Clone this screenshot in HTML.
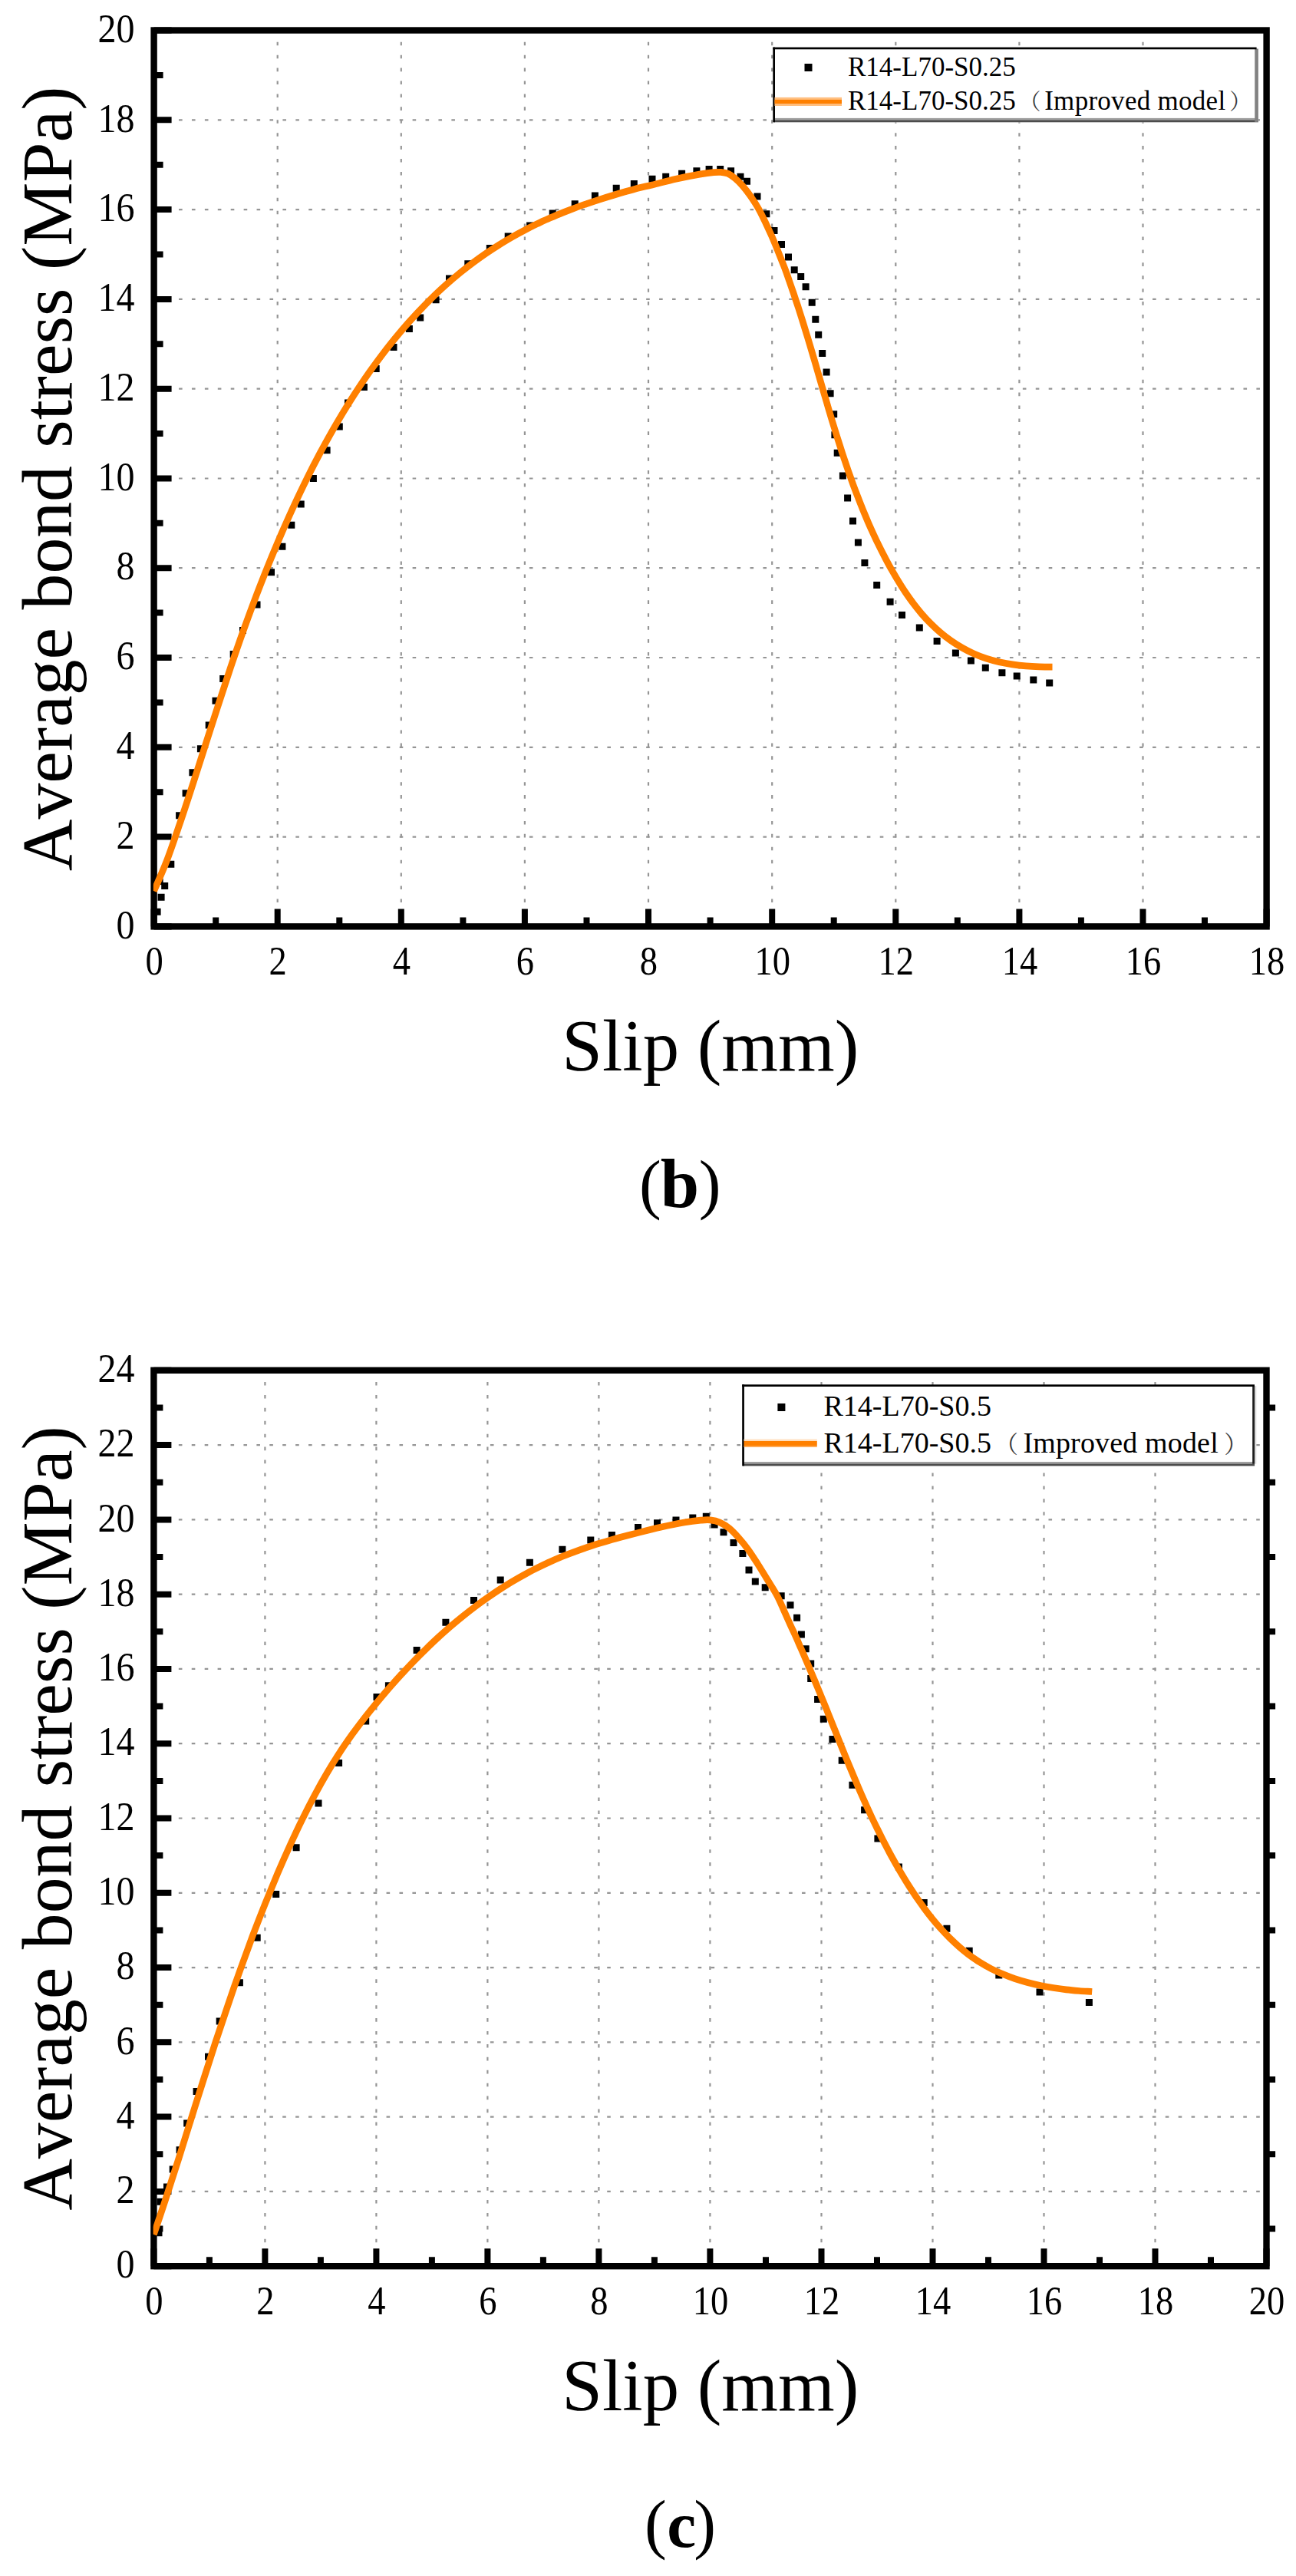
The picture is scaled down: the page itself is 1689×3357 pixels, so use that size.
<!DOCTYPE html>
<html lang="en">
<head>
<meta charset="utf-8">
<title>Average bond stress vs slip</title>
<style>
html,body{margin:0;padding:0;background:#fff}
body{width:1689px;height:3357px;overflow:hidden}
svg{display:block}
svg text{font-family:'Liberation Serif', 'Noto Serif CJK SC', serif;fill:#000}
</style>
</head>
<body>
<svg width="1689" height="3357" viewBox="0 0 1689 3357">
<rect width="1689" height="3357" fill="#fff"/>
<g id="chart-b">
<path d="M361.7 37.8V1207.4M522.8 37.8V1207.4M683.9 37.8V1207.4M845 37.8V1207.4M1006.2 37.8V1207.4M1167.3 37.8V1207.4M1328.4 37.8V1207.4M1489.5 37.8V1207.4" stroke="#959595" stroke-width="2.2" stroke-dasharray="4.6 12.32" fill="none"/>
<path d="M199.2 1090.6H1644.6M199.2 973.8H1644.6M199.2 857H1644.6M199.2 740.2H1644.6M199.2 623.5H1644.6M199.2 506.7H1644.6M199.2 389.9H1644.6M199.2 273.1H1644.6M199.2 156.3H1644.6" stroke="#959595" stroke-width="2.2" stroke-dasharray="4.6 12.32" fill="none"/>
<rect x="1008.6" y="63" width="631.3" height="96.4" fill="#fff"/>
<rect x="1008.6" y="153.9" width="631.3" height="2.6" fill="#a0a0a0"/>
<rect x="1008.6" y="156.4" width="631.3" height="2.9" fill="#4c4c4c"/>
<rect x="1635.3" y="63.5" width="4.6" height="95.4" fill="#828282"/>
<rect x="1007.3" y="61.6" width="630.3" height="2.7" fill="#000"/>
<rect x="1007.3" y="61.6" width="2.7" height="97.7" fill="#000"/>
<path d="M200.6 1183.8h9v9h-9zM205.6 1164.8h9v9h-9zM210.2 1149.9h9v9h-9zM218.3 1121.8h9v9h-9zM229.1 1058.2h9v9h-9zM237.6 1029.2h9v9h-9zM246.4 1002.2h9v9h-9zM256.9 971.3h9v9h-9zM267.7 940.5h9v9h-9zM276.5 908.8h9v9h-9zM286.2 879.9h9v9h-9zM299.7 847.9h9v9h-9zM312 817h9v9h-9zM330.5 783.5h9v9h-9zM349 741.3h9v9h-9zM363.4 707.7h9v9h-9zM375.3 679.8h9v9h-9zM387.7 652.4h9v9h-9zM403.9 618.9h9v9h-9zM421.6 582.2h9v9h-9zM437.8 551.4h9v9h-9zM449 520.5h9v9h-9zM469.9 500h9v9h-9zM485.7 476.1h9v9h-9zM508.5 448h9v9h-9zM528.9 424h9v9h-9zM543.2 409.4h9v9h-9zM563.6 386.2h9v9h-9zM581 358.5h9v9h-9zM605.3 339.2h9v9h-9zM633.8 319.1h9v9h-9zM657.7 303.5h9v9h-9zM686.1 289.6h9v9h-9zM715.7 273.6h9v9h-9zM744.7 261.2h9v9h-9zM770.9 250.4h9v9h-9zM798.7 240.8h9v9h-9zM821.8 235h9v9h-9zM845.5 228.8h9v9h-9zM863.2 225.7h9v9h-9zM884.1 221.8h9v9h-9zM903.4 218.3h9v9h-9zM919.6 216h9v9h-9zM934.2 216h9v9h-9zM948.1 218.3h9v9h-9zM960.5 225.7h9v9h-9zM969 231.8h9v9h-9zM982.5 251.4h9v9h-9zM994.4 274.3h9v9h-9zM1004.5 295.9h9v9h-9zM1014 314.1h9v9h-9zM1023 330.6h9v9h-9zM1030.7 347.3h9v9h-9zM1039.2 356.1h9v9h-9zM1045.6 369.3h9v9h-9zM1053.7 389.7h9v9h-9zM1058.3 411.7h9v9h-9zM1062.2 431.8h9v9h-9zM1067.2 456.1h9v9h-9zM1072.6 480.4h9v9h-9zM1077.6 508.2h9v9h-9zM1082.2 535.2h9v9h-9zM1083.4 562.2h9v9h-9zM1086.7 585.7h9v9h-9zM1093.9 615.5h9v9h-9zM1100.1 644.5h9v9h-9zM1107 674.4h9v9h-9zM1113.9 702.5h9v9h-9zM1122.4 729.1h9v9h-9zM1138.2 758.1h9v9h-9zM1155.6 779.7h9v9h-9zM1171 797h9v9h-9zM1193.8 813.6h9v9h-9zM1216.6 831h9v9h-9zM1240.9 846.4h9v9h-9zM1260.9 856.5h9v9h-9zM1279.8 865.7h9v9h-9zM1301.4 872.3h9v9h-9zM1320.7 876.5h9v9h-9zM1342.3 881.5h9v9h-9zM1363.2 885.4h9v9h-9z" fill="#000"/>
<path d="M200.6 1207.4v-23M281.2 1207.4v-12M361.7 1207.4v-23M442.3 1207.4v-12M522.8 1207.4v-23M603.4 1207.4v-12M683.9 1207.4v-23M764.5 1207.4v-12M845 1207.4v-23M925.6 1207.4v-12M1006.2 1207.4v-23M1086.7 1207.4v-12M1167.3 1207.4v-23M1247.8 1207.4v-12M1328.4 1207.4v-23M1408.9 1207.4v-12M1489.5 1207.4v-23M1570 1207.4v-12M1650.6 1207.4v-23M200.6 1207.4h23M200.6 1149h12M200.6 1090.6h23M200.6 1032.2h12M200.6 973.8h23M200.6 915.4h12M200.6 857h23M200.6 798.6h12M200.6 740.2h23M200.6 681.8h12M200.6 623.5h23M200.6 565.1h12M200.6 506.7h23M200.6 448.3h12M200.6 389.9h23M200.6 331.5h12M200.6 273.1h23M200.6 214.7h12M200.6 156.3h23M200.6 97.9h12M200.6 39.5h23" stroke="#000" stroke-width="8" fill="none"/>
<rect x="200.6" y="39.5" width="1450" height="1167.9" fill="none" stroke="#000" stroke-width="8.4"/>
<clipPath id="clip-b"><rect x="199.8" y="39.5" width="1450" height="1167.9"/></clipPath>
<path d="M200.6 1161.2C203.4 1154.7 211.7 1136.4 217.3 1121.9C222.8 1107.5 228.4 1090.9 233.9 1074.6C239.5 1058.3 245 1041.3 250.6 1024.2C256.1 1007.2 261.7 989.7 267.2 972.4C272.8 955.1 278.3 937.5 283.9 920.5C289.4 903.4 295 886.3 300.5 869.9C306.1 853.4 311.6 837.4 317.2 821.8C322.7 806.3 328.3 791.3 333.8 776.7C339.4 762.1 344.9 748 350.5 734.3C356 720.7 361.6 707.5 367.1 694.7C372.7 681.9 378.2 669.5 383.8 657.5C389.3 645.5 394.9 634 400.4 622.8C406 611.6 411.5 600.9 417.1 590.4C422.6 580 428.2 570 433.7 560.3C439.3 550.6 444.8 541.2 450.4 532.2C455.9 523.2 461.5 514.5 467 506.1C472.6 497.7 478.1 489.6 483.7 481.8C489.2 474 494.8 466.5 500.3 459.3C505.9 452.1 511.4 445.1 517 438.4C522.5 431.7 528.1 425.2 533.6 419C539.2 412.8 544.7 406.8 550.3 401.1C555.8 395.3 561.4 389.8 566.9 384.4C572.5 379.1 578 374 583.6 369.1C589.1 364.2 594.7 359.5 600.2 355C605.8 350.5 611.3 346.2 616.9 342C622.4 337.9 628 333.9 633.5 330.1C639.1 326.3 644.6 322.7 650.2 319.2C655.7 315.7 661.3 312.4 666.8 309.2C672.4 306 677.9 303 683.5 300.1C689 297.2 694.6 294.4 700.1 291.7C705.7 289.1 711.2 286.5 716.8 284.1C722.3 281.7 727.9 279.3 733.4 277.1C739 274.9 744.5 272.8 750.1 270.7C755.6 268.6 761.2 266.7 766.7 264.8C772.3 262.9 777.8 261.1 783.4 259.3C788.9 257.5 794.5 255.8 800 254.2C805.6 252.5 811.1 250.9 816.7 249.3C822.2 247.8 827.8 246.2 833.3 244.8C838.9 243.4 842.1 242.9 850 241C857.9 239.1 870.6 235.5 880.9 233.2C891.2 230.9 903.5 228.5 911.7 227.1C919.9 225.7 925.6 225 930.2 224.6C934.8 224.2 936.4 224.1 939.5 224.4C942.6 224.7 945.7 225 948.8 226.3C951.9 227.7 954.9 229.9 958 232.5C961.1 235.1 963.9 237.8 967.3 241.7C970.6 245.5 974.5 250.4 978.1 255.6C981.7 260.8 985.6 266.7 988.9 272.6C992.2 278.5 995.3 285.2 998.1 291.1C1000.9 297 1003.3 302.2 1005.9 308.1C1008.5 314 1010.8 319.7 1013.6 326.6C1016.4 333.6 1020.3 343.2 1022.8 349.8C1025.3 356.4 1026.7 360.6 1028.6 366.1C1030.5 371.5 1032.4 377 1034.3 382.5C1036.1 388 1038 393.5 1039.8 399C1041.6 404.5 1043.3 410 1045.1 415.6C1046.8 421.1 1048.5 426.7 1050.2 432.2C1051.9 437.8 1053.6 443.3 1055.3 448.9C1056.9 454.5 1058.6 460.1 1060.2 465.6C1061.9 471.2 1063.5 476.8 1065.1 482.4C1066.7 488 1068.4 493.6 1070 499.2C1071.6 504.7 1073.2 510.3 1074.9 515.9C1076.5 521.5 1078.2 527.1 1079.8 532.7C1081.5 538.2 1083.1 543.8 1084.8 549.4C1086.5 554.9 1088.2 560.5 1089.9 566C1091.7 571.6 1093.4 577.1 1095.2 582.6C1096.9 588.2 1098.7 593.7 1100.6 599.2C1102.4 604.7 1104.3 610.2 1106.2 615.6C1108.1 621.1 1110.1 626.6 1112 632C1114 637.4 1116.1 642.8 1118.2 648.2C1120.2 653.6 1122.4 659 1124.6 664.4C1126.8 669.7 1129 675.1 1131.3 680.4C1133.6 685.7 1136 690.9 1138.4 696.2C1140.8 701.5 1143.3 706.7 1145.9 711.9C1148.4 717.1 1151.1 722.2 1153.8 727.4C1156.5 732.5 1159.2 737.6 1162.1 742.7C1165 747.8 1167.9 752.8 1171 757.8C1174 762.7 1177.1 767.6 1180.4 772.5C1183.7 777.3 1187 782 1190.5 786.6C1194 791.2 1197.6 795.7 1201.3 800.1C1205.1 804.5 1209 808.7 1213 812.7C1217.1 816.8 1221.3 820.7 1225.7 824.4C1230 828.1 1234.6 831.6 1239.3 834.9C1244 838.2 1248.9 841.3 1253.9 844.1C1258.9 847 1264 849.6 1269.3 851.9C1274.5 854.2 1280 856.3 1285.4 858.1C1290.9 859.9 1296.6 861.4 1302.2 862.7C1307.9 863.9 1313.6 865 1319.4 865.9C1325.1 866.7 1331 867.4 1336.8 867.9C1342.6 868.4 1348.4 868.7 1354.2 868.9C1360 869.1 1368.6 869.1 1371.5 869.1" fill="none" stroke="#ff8000" stroke-width="8.7" stroke-linejoin="round" clip-path="url(#clip-b)"/>
<rect x="1048.5" y="83" width="10" height="10" fill="#000"/>
<rect x="1009.5" y="126.9" width="87.5" height="11.1" fill="#ffbf80"/>
<rect x="1009.5" y="129.9" width="87.5" height="5.2" fill="#ff8000"/>
<text x="1105" y="98.8" font-size="35">R14-L70-S0.25</text>
<text y="142.6" font-size="35"><tspan x="1105">R14-L70-S0.25</tspan><tspan x="1327.7" font-size="28.7" fill="#3c3c3c">（</tspan><tspan x="1361.2" letter-spacing="0.28">Improved model</tspan><tspan x="1602.3" font-size="28.7" fill="#3c3c3c">）</tspan></text>
<text transform="translate(201.1 1270.3) scale(0.95 1.07)" font-size="49" text-anchor="middle">0</text>
<text transform="translate(362.2 1270.3) scale(0.95 1.07)" font-size="49" text-anchor="middle">2</text>
<text transform="translate(523.3 1270.3) scale(0.95 1.07)" font-size="49" text-anchor="middle">4</text>
<text transform="translate(684.4 1270.3) scale(0.95 1.07)" font-size="49" text-anchor="middle">6</text>
<text transform="translate(845.5 1270.3) scale(0.95 1.07)" font-size="49" text-anchor="middle">8</text>
<text transform="translate(1006.7 1270.3) scale(0.95 1.07)" font-size="49" text-anchor="middle">10</text>
<text transform="translate(1167.8 1270.3) scale(0.95 1.07)" font-size="49" text-anchor="middle">12</text>
<text transform="translate(1328.9 1270.3) scale(0.95 1.07)" font-size="49" text-anchor="middle">14</text>
<text transform="translate(1490 1270.3) scale(0.95 1.07)" font-size="49" text-anchor="middle">16</text>
<text transform="translate(1651.1 1270.3) scale(0.95 1.07)" font-size="49" text-anchor="middle">18</text>
<text transform="translate(175.5 1222.6) scale(0.98 1.07)" font-size="49" text-anchor="end">0</text>
<text transform="translate(175.5 1105.8) scale(0.98 1.07)" font-size="49" text-anchor="end">2</text>
<text transform="translate(175.5 989) scale(0.98 1.07)" font-size="49" text-anchor="end">4</text>
<text transform="translate(175.5 872.2) scale(0.98 1.07)" font-size="49" text-anchor="end">6</text>
<text transform="translate(175.5 755.4) scale(0.98 1.07)" font-size="49" text-anchor="end">8</text>
<text transform="translate(175.5 638.7) scale(0.98 1.07)" font-size="49" text-anchor="end">10</text>
<text transform="translate(175.5 521.9) scale(0.98 1.07)" font-size="49" text-anchor="end">12</text>
<text transform="translate(175.5 405.1) scale(0.98 1.07)" font-size="49" text-anchor="end">14</text>
<text transform="translate(175.5 288.3) scale(0.98 1.07)" font-size="49" text-anchor="end">16</text>
<text transform="translate(175.5 171.5) scale(0.98 1.07)" font-size="49" text-anchor="end">18</text>
<text transform="translate(175.5 54.7) scale(0.98 1.07)" font-size="49" text-anchor="end">20</text>
<text transform="translate(92.6 623.9) rotate(-90)" font-size="93.7" text-anchor="middle" style="font-kerning:none">Average bond stress (MPa)</text>
<text x="925.8" y="1395.3" font-size="94.8" text-anchor="middle">Slip (mm)</text>
<text font-size="86.4"><tspan x="833.1" y="1572.4">(</tspan><tspan x="860.7" y="1572.5" font-weight="bold" font-size="90.5">b</tspan><tspan x="910.7" y="1572.4">)</tspan></text>
</g>
<g id="chart-c">
<path d="M345.4 1784.1V2953.2M490.4 1784.1V2953.2M635.4 1784.1V2953.2M780.4 1784.1V2953.2M925.4 1784.1V2953.2M1070.5 1784.1V2953.2M1215.5 1784.1V2953.2M1360.5 1784.1V2953.2M1505.5 1784.1V2953.2" stroke="#959595" stroke-width="2.2" stroke-dasharray="4.6 12.32" fill="none"/>
<path d="M199 2855.9H1644.5M199 2758.6H1644.5M199 2661.3H1644.5M199 2564.1H1644.5M199 2466.8H1644.5M199 2369.5H1644.5M199 2272.2H1644.5M199 2174.9H1644.5M199 2077.7H1644.5M199 1980.4H1644.5M199 1883.1H1644.5" stroke="#959595" stroke-width="2.2" stroke-dasharray="4.6 12.32" fill="none"/>
<rect x="968.6" y="1805.7" width="666.5" height="104.8" fill="#fff"/>
<rect x="968.6" y="1905" width="666.5" height="2.6" fill="#a0a0a0"/>
<rect x="968.6" y="1907.5" width="666.5" height="2.9" fill="#4c4c4c"/>
<rect x="1635.1" y="1806.2" width="2.2" height="101.5" fill="#dedede"/>
<rect x="1632.2" y="1806.2" width="2.9" height="101.5" fill="#1e1e1e"/>
<rect x="967.2" y="1804.3" width="667.8" height="2.7" fill="#000"/>
<rect x="967.2" y="1804.3" width="2.7" height="106.1" fill="#000"/>
<path d="M202.5 2905.3h9v9h-9zM204.5 2864.8h9v9h-9zM213 2845.5h9v9h-9zM220.7 2822.4h9v9h-9zM229.6 2797.3h9v9h-9zM239.2 2762.6h9v9h-9zM251.6 2720.9h9v9h-9zM267 2675.8h9v9h-9zM281.7 2629.5h9v9h-9zM307.9 2579.3h9v9h-9zM330.7 2520.7h9v9h-9zM355.2 2464h9v9h-9zM381.6 2403.3h9v9h-9zM410.5 2345.4h9v9h-9zM437.1 2293h9v9h-9zM472.2 2238.6h9v9h-9zM486.5 2206.9h9v9h-9zM501.9 2192.3h9v9h-9zM538.6 2146h9v9h-9zM576.4 2109.7h9v9h-9zM613 2081.1h9v9h-9zM647.7 2054.5h9v9h-9zM685.9 2031.8h9v9h-9zM728.4 2014.8h9v9h-9zM765.3 2002.4h9v9h-9zM792.9 1996h9v9h-9zM827 1986.1h9v9h-9zM852 1980.2h9v9h-9zM876.5 1976.5h9v9h-9zM898.3 1973.5h9v9h-9zM915.8 1971.8h9v9h-9zM926.6 1982.5h9v9h-9zM938.5 1992.3h9v9h-9zM951.5 2005.9h9v9h-9zM963.4 2019.9h9v9h-9zM971.5 2041.5h9v9h-9zM979.8 2056.5h9v9h-9zM992.7 2064.2h9v9h-9zM1013.7 2075.3h9v9h-9zM1025.5 2087.3h9v9h-9zM1034.1 2103.8h9v9h-9zM1039.9 2125.4h9v9h-9zM1045.7 2144.3h9v9h-9zM1052.2 2163.6h9v9h-9zM1052.2 2182.9h9v9h-9zM1061.1 2209.9h9v9h-9zM1068.8 2235.8h9v9h-9zM1080.4 2262h9v9h-9zM1092.7 2289.8h9v9h-9zM1106.4 2321.8h9v9h-9zM1122.1 2354.3h9v9h-9zM1139.4 2391.6h9v9h-9zM1166.9 2428.6h9v9h-9zM1199.7 2474.9h9v9h-9zM1229.4 2508.8h9v9h-9zM1258.7 2537.8h9v9h-9zM1297.3 2569.4h9v9h-9zM1350.5 2591.4h9v9h-9zM1414.9 2604.9h9v9h-9z" fill="#000"/>
<path d="M200.4 2953.2v-23M272.9 2953.2v-12M345.4 2953.2v-23M417.9 2953.2v-12M490.4 2953.2v-23M562.9 2953.2v-12M635.4 2953.2v-23M707.9 2953.2v-12M780.4 2953.2v-23M852.9 2953.2v-12M925.4 2953.2v-23M998 2953.2v-12M1070.5 2953.2v-23M1143 2953.2v-12M1215.5 2953.2v-23M1288 2953.2v-12M1360.5 2953.2v-23M1433 2953.2v-12M1505.5 2953.2v-23M1578 2953.2v-12M1650.5 2953.2v-23M200.4 2953.2h23M200.4 2904.6h12M1650.5 2904.6h11.6M200.4 2855.9h23M200.4 2807.3h12M1650.5 2807.3h11.6M200.4 2758.6h23M200.4 2710h12M1650.5 2710h11.6M200.4 2661.3h23M200.4 2612.7h12M1650.5 2612.7h11.6M200.4 2564.1h23M200.4 2515.4h12M1650.5 2515.4h11.6M200.4 2466.8h23M200.4 2418.1h12M1650.5 2418.1h11.6M200.4 2369.5h23M200.4 2320.9h12M1650.5 2320.9h11.6M200.4 2272.2h23M200.4 2223.6h12M1650.5 2223.6h11.6M200.4 2174.9h23M200.4 2126.3h12M1650.5 2126.3h11.6M200.4 2077.7h23M200.4 2029h12M1650.5 2029h11.6M200.4 1980.4h23M200.4 1931.7h12M1650.5 1931.7h11.6M200.4 1883.1h23M200.4 1834.4h12M1650.5 1834.4h11.6M200.4 1785.8h23" stroke="#000" stroke-width="8" fill="none"/>
<rect x="200.4" y="1785.8" width="1450.1" height="1167.4" fill="none" stroke="#000" stroke-width="8.4"/>
<clipPath id="clip-c"><rect x="199.6" y="1785.8" width="1450.1" height="1167.4"/></clipPath>
<path d="M200.4 2912C203.1 2904 211.2 2880.2 216.5 2863.8C221.9 2847.4 227.3 2830.5 232.7 2813.6C238.1 2796.6 243.4 2779.3 248.8 2762.2C254.2 2745.1 259.6 2727.8 265 2710.9C270.4 2694 275.7 2677.1 281.1 2660.6C286.5 2644.2 291.9 2628 297.3 2612.3C302.6 2596.5 308 2581.1 313.4 2566.1C318.8 2551 324.2 2536.4 329.5 2522.1C334.9 2507.9 340.3 2494 345.7 2480.5C351.1 2467.1 356.5 2454 361.8 2441.4C367.2 2428.7 372.6 2416.5 378 2404.7C383.4 2392.9 388.7 2381.5 394.1 2370.6C399.5 2359.6 404.9 2349.1 410.3 2339C415.6 2329 421 2319.3 426.4 2310.2C431.8 2301 437.2 2292.4 442.6 2284.2C447.9 2275.9 453.3 2268.2 458.7 2260.6C464.1 2253.1 469.5 2246 474.8 2239.1C480.2 2232.1 485.6 2225.5 491 2218.9C496.4 2212.4 501.7 2206.1 507.1 2199.9C512.5 2193.7 517.9 2187.7 523.3 2181.8C528.7 2176 534 2170.3 539.4 2164.7C544.8 2159.2 550.2 2153.8 555.6 2148.6C560.9 2143.3 566.3 2138.3 571.7 2133.3C577.1 2128.4 582.5 2123.7 587.8 2119C593.2 2114.4 598.6 2109.9 604 2105.6C609.4 2101.3 614.8 2097.1 620.1 2093.1C625.5 2089 630.9 2085.1 636.3 2081.4C641.7 2077.6 647 2074 652.4 2070.5C657.8 2067.1 663.2 2063.7 668.6 2060.5C673.9 2057.3 679.3 2054.2 684.7 2051.3C690.1 2048.4 695.5 2045.5 700.9 2042.9C706.2 2040.2 711.6 2037.6 717 2035.2C722.4 2032.8 727.8 2030.5 733.1 2028.3C738.5 2026.1 743.9 2024 749.3 2022.1C754.7 2020.1 760 2018.2 765.4 2016.4C770.8 2014.6 776.2 2012.9 781.6 2011.2C787 2009.6 792.3 2008 797.7 2006.4C803.1 2004.9 808.5 2003.4 813.9 2002C819.2 2000.6 822.2 1999.9 830 1997.9C837.8 1995.9 850.6 1992.5 860.9 1990.2C871.2 1987.9 883 1985.5 891.7 1984C900.4 1982.5 907.6 1981.7 913.3 1981.2C919 1980.7 921.6 1980.4 925.7 1980.9C929.8 1981.4 933.9 1982.2 938 1984C942.1 1985.8 946.3 1988.4 950.4 1991.7C954.5 1995 958.6 1999.5 962.7 2004.1C966.8 2008.7 971 2013.8 975.1 2019.5C979.2 2025.2 983.3 2031.6 987.4 2038C991.5 2044.4 995.6 2051.3 999.8 2058.1C1004 2064.9 1008.9 2072.3 1012.5 2079C1016.1 2085.7 1018.5 2091.8 1021.4 2098.2C1024.3 2104.6 1027.4 2111.7 1030 2117.5C1032.6 2123.3 1034.8 2127.6 1037.1 2132.8C1039.4 2137.9 1041.6 2143.1 1043.9 2148.3C1046.2 2153.5 1048.4 2158.7 1050.7 2163.9C1052.9 2169.1 1055.1 2174.4 1057.3 2179.6C1059.6 2184.8 1061.7 2190.1 1063.9 2195.3C1066.1 2200.6 1068.3 2205.8 1070.4 2211.1C1072.6 2216.4 1074.7 2221.6 1076.9 2226.9C1079 2232.2 1081.1 2237.4 1083.2 2242.7C1085.3 2248 1087.4 2253.3 1089.6 2258.5C1091.7 2263.8 1093.8 2269.1 1095.9 2274.3C1098 2279.6 1100.2 2284.9 1102.3 2290.1C1104.5 2295.4 1106.6 2300.6 1108.8 2305.8C1111 2311.1 1113.2 2316.3 1115.4 2321.5C1117.6 2326.8 1119.8 2332 1122.1 2337.2C1124.4 2342.4 1126.7 2347.5 1129 2352.7C1131.4 2357.9 1133.7 2363 1136.1 2368.2C1138.5 2373.3 1141 2378.4 1143.5 2383.5C1146 2388.6 1148.5 2393.7 1151.1 2398.8C1153.7 2403.8 1156.3 2408.9 1159 2413.9C1161.7 2418.9 1164.5 2423.9 1167.3 2428.9C1170.1 2433.9 1173 2438.8 1176 2443.7C1178.9 2448.6 1181.9 2453.5 1185 2458.4C1188.1 2463.2 1191.3 2468 1194.5 2472.8C1197.8 2477.5 1201.1 2482.2 1204.5 2486.8C1207.9 2491.4 1211.4 2496 1215 2500.4C1218.6 2504.8 1222.3 2509.2 1226.1 2513.4C1229.9 2517.6 1233.8 2521.7 1237.8 2525.7C1241.8 2529.6 1245.9 2533.5 1250.1 2537.1C1254.3 2540.8 1258.7 2544.3 1263.1 2547.7C1267.6 2551 1272.2 2554.2 1276.9 2557.2C1281.6 2560.1 1286.4 2562.9 1291.4 2565.5C1296.4 2568.1 1301.5 2570.4 1306.7 2572.6C1311.9 2574.8 1317.2 2576.8 1322.6 2578.6C1328 2580.4 1333.5 2582 1339 2583.5C1344.5 2585 1350.1 2586.3 1355.7 2587.4C1361.3 2588.6 1367 2589.6 1372.7 2590.5C1378.3 2591.4 1384 2592.2 1389.6 2592.8C1395.3 2593.5 1400.9 2594 1406.5 2594.5C1412.1 2594.9 1420.4 2595.3 1423.2 2595.5" fill="none" stroke="#ff8000" stroke-width="8.7" stroke-linejoin="round" clip-path="url(#clip-c)"/>
<rect x="1013.4" y="1829" width="10" height="10" fill="#000"/>
<rect x="969.5" y="1875.3" width="95.3" height="2.7" fill="#ffe6cc"/>
<rect x="969.5" y="1884" width="95.3" height="1.9" fill="#ffa64d"/>
<rect x="969.5" y="1877.9" width="95.3" height="6.2" fill="#ff8000"/>
<text x="1073.5" y="1845.4" font-size="38">R14-L70-S0.5</text>
<text y="1892.7" font-size="38"><tspan x="1073.5">R14-L70-S0.5</tspan><tspan x="1295.7" font-size="31.2" fill="#3c3c3c">（</tspan><tspan x="1333.4" letter-spacing="0.16">Improved model</tspan><tspan x="1595.2" font-size="31.2" fill="#3c3c3c">）</tspan></text>
<text transform="translate(200.9 3016) scale(0.95 1.07)" font-size="49" text-anchor="middle">0</text>
<text transform="translate(345.9 3016) scale(0.95 1.07)" font-size="49" text-anchor="middle">2</text>
<text transform="translate(490.9 3016) scale(0.95 1.07)" font-size="49" text-anchor="middle">4</text>
<text transform="translate(635.9 3016) scale(0.95 1.07)" font-size="49" text-anchor="middle">6</text>
<text transform="translate(780.9 3016) scale(0.95 1.07)" font-size="49" text-anchor="middle">8</text>
<text transform="translate(925.9 3016) scale(0.95 1.07)" font-size="49" text-anchor="middle">10</text>
<text transform="translate(1071 3016) scale(0.95 1.07)" font-size="49" text-anchor="middle">12</text>
<text transform="translate(1216 3016) scale(0.95 1.07)" font-size="49" text-anchor="middle">14</text>
<text transform="translate(1361 3016) scale(0.95 1.07)" font-size="49" text-anchor="middle">16</text>
<text transform="translate(1506 3016) scale(0.95 1.07)" font-size="49" text-anchor="middle">18</text>
<text transform="translate(1651 3016) scale(0.95 1.07)" font-size="49" text-anchor="middle">20</text>
<text transform="translate(175.5 2968.4) scale(0.98 1.07)" font-size="49" text-anchor="end">0</text>
<text transform="translate(175.5 2871.1) scale(0.98 1.07)" font-size="49" text-anchor="end">2</text>
<text transform="translate(175.5 2773.8) scale(0.98 1.07)" font-size="49" text-anchor="end">4</text>
<text transform="translate(175.5 2676.5) scale(0.98 1.07)" font-size="49" text-anchor="end">6</text>
<text transform="translate(175.5 2579.3) scale(0.98 1.07)" font-size="49" text-anchor="end">8</text>
<text transform="translate(175.5 2482) scale(0.98 1.07)" font-size="49" text-anchor="end">10</text>
<text transform="translate(175.5 2384.7) scale(0.98 1.07)" font-size="49" text-anchor="end">12</text>
<text transform="translate(175.5 2287.4) scale(0.98 1.07)" font-size="49" text-anchor="end">14</text>
<text transform="translate(175.5 2190.1) scale(0.98 1.07)" font-size="49" text-anchor="end">16</text>
<text transform="translate(175.5 2092.8) scale(0.98 1.07)" font-size="49" text-anchor="end">18</text>
<text transform="translate(175.5 1995.6) scale(0.98 1.07)" font-size="49" text-anchor="end">20</text>
<text transform="translate(175.5 1898.3) scale(0.98 1.07)" font-size="49" text-anchor="end">22</text>
<text transform="translate(175.5 1801) scale(0.98 1.07)" font-size="49" text-anchor="end">24</text>
<text transform="translate(92.6 2369.6) rotate(-90)" font-size="93.7" text-anchor="middle" style="font-kerning:none">Average bond stress (MPa)</text>
<text x="925.8" y="3140.6" font-size="94.8" text-anchor="middle">Slip (mm)</text>
<text font-size="86.4"><tspan x="840.1" y="3318.1">(</tspan><tspan x="869.2" y="3318.8" font-weight="bold" font-size="85.5">c</tspan><tspan x="904.3" y="3318.1">)</tspan></text>
</g>
</svg>
</body>
</html>
